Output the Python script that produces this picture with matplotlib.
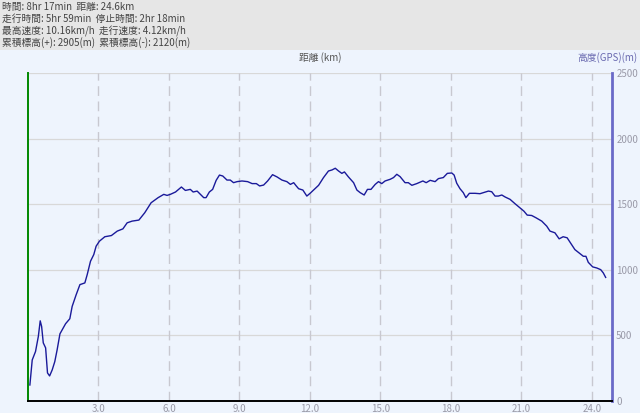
import matplotlib
matplotlib.use("Agg")
import matplotlib.pyplot as plt
from matplotlib.patches import Rectangle

plt.rcParams['font.family'] = ['Noto Sans CJK JP', 'DejaVu Sans']

# summary lines in the header
summary = [
    "時間: 8hr 17min  距離: 24.6km",
    "走行時間: 5hr 59min  停止時間: 2hr 18min",
    "最高速度: 10.16km/h  走行速度: 4.12km/h",
    "累積標高(+): 2905(m)  累積標高(-): 2120(m)",
]

# distance (km) / altitude (m)
dist = [0.08, 0.18, 0.32, 0.44, 0.52, 0.58, 0.65, 0.75, 0.83, 0.92, 1.03, 1.14,
        1.24, 1.36, 1.60, 1.78, 1.88, 2.05, 2.21, 2.42, 2.52, 2.66, 2.80, 2.90,
        3.04, 3.27, 3.55, 3.80, 4.04, 4.22, 4.43, 4.72, 4.97, 5.24, 5.54, 5.78,
        5.92, 6.06, 6.28, 6.53, 6.70, 6.91, 7.03, 7.20, 7.34, 7.48, 7.58, 7.72,
        7.86, 8.01, 8.15, 8.29, 8.47, 8.61, 8.75, 8.90, 9.11, 9.35, 9.54, 9.72,
        9.86, 10.03, 10.20, 10.41, 10.60, 10.81, 11.02, 11.17, 11.31, 11.42,
        11.52, 11.70, 11.87, 12.02, 12.23, 12.37, 12.58, 12.79, 12.94, 13.08,
        13.22, 13.36, 13.47, 13.64, 13.86, 14.00, 14.14, 14.31, 14.45, 14.60,
        14.78, 14.92, 15.06, 15.20, 15.42, 15.56, 15.70, 15.84, 16.05, 16.19,
        16.34, 16.55, 16.81, 16.95, 17.12, 17.33, 17.47, 17.68, 17.85, 18.04,
        18.14, 18.25, 18.39, 18.53, 18.64, 18.79, 19.03, 19.24, 19.38, 19.60,
        19.74, 19.88, 20.02, 20.17, 20.31, 20.52, 20.73, 20.94, 21.11, 21.25,
        21.44, 21.62, 21.87, 22.08, 22.22, 22.43, 22.61, 22.78, 22.95, 23.14,
        23.28, 23.46, 23.64, 23.75, 23.85, 24.04, 24.21, 24.38, 24.49, 24.59]
alt = [122, 313, 377, 492, 611, 568, 443, 405, 214, 191, 237, 300,
       390, 512, 589, 627, 721, 810, 887, 900, 963, 1065, 1116, 1180,
       1218, 1252, 1261, 1295, 1312, 1358, 1371, 1379, 1435, 1511, 1550, 1575,
       1567, 1575, 1593, 1631, 1605, 1613, 1593, 1600, 1575, 1550, 1550, 1593,
       1613, 1682, 1722, 1715, 1684, 1684, 1664, 1672, 1677, 1672, 1657, 1657,
       1639, 1646, 1677, 1725, 1708, 1684, 1672, 1651, 1664, 1639,
       1618, 1608, 1562, 1585, 1620, 1644, 1703, 1753, 1761, 1774,
       1753, 1735, 1746, 1708, 1664, 1608, 1588, 1570, 1613, 1613,
       1651, 1672, 1657, 1677, 1690, 1703, 1728, 1710, 1664, 1664,
       1644, 1657, 1677, 1664, 1682, 1672, 1695, 1703, 1735, 1738,
       1722, 1660, 1618, 1588, 1550, 1583, 1583, 1580, 1588, 1600,
       1595, 1562, 1562, 1570, 1555, 1537, 1504, 1473, 1447, 1417,
       1414, 1397, 1371, 1333, 1295, 1282, 1236, 1252, 1244, 1193,
       1154, 1129, 1103, 1103, 1057, 1022, 1014, 1001, 976, 942]

xticks = [3.0, 6.0, 9.0, 12.0, 15.0, 18.0, 21.0, 24.0]
yticks = [0, 500, 1000, 1500, 2000, 2500]

W, H = 640, 413
fig = plt.figure(figsize=(W / 100, H / 100), dpi=100)
fig.patch.set_facecolor('#eef4fd')

# grey header band
fig.patches.append(Rectangle((0, 1 - 50 / H), 1, 50 / H, transform=fig.transFigure,
                             facecolor='#e6e6e6', edgecolor='none', zorder=0))
for i, line in enumerate(summary):
    fig.text(2 / W, 1 - (7 + 12 * i) / H, line, fontsize=7, color='#444444',
             va='center', ha='left')

ax = fig.add_axes([28 / W, 12 / H, 584 / W, 328 / H])
ax.set_facecolor('#eef4fd')
ax.set_xlim(0, 24.86)
ax.set_ylim(0, 2500)

for y in yticks[1:]:
    ax.axhline(y, color='#d8d8d8', lw=0.9, zorder=1)
for x in xticks:
    ax.axvline(x, color='#c8c8d0', lw=1.0, ls=(0, (7, 4)), zorder=1)

ax.plot(dist, alt, color='#1a1a9a', lw=1.0, zorder=3)

ax.spines['top'].set_visible(False)
ax.spines['left'].set_color('#008800')
ax.spines['left'].set_linewidth(1.4)
ax.spines['bottom'].set_color('#000000')
ax.spines['bottom'].set_linewidth(1.4)
ax.spines['right'].set_color('#6a6ac8')
ax.spines['right'].set_linewidth(2.0)

ax.set_xticks(xticks)
ax.set_xticklabels([f"{v:.1f}" for v in xticks])
ax.tick_params(axis='x', length=0, pad=2, labelsize=7, labelcolor='#9a9aa8')
ax.yaxis.tick_right()
ax.set_yticks(yticks)
ax.set_yticklabels([str(v) for v in yticks])
ax.tick_params(axis='y', length=0, pad=3, labelsize=7, labelcolor='#9a9aa8')
ax.tick_params(left=False)

fig.text(320 / W, 1 - 58 / H, "距離 (km)", fontsize=7, color='#555555',
         ha='center', va='center')
fig.text(637 / W, 1 - 58 / H, "高度(GPS)(m)", fontsize=7, color='#6a6ab0',
         ha='right', va='center')

fig.savefig("out.png", dpi=100, facecolor=fig.get_facecolor())
